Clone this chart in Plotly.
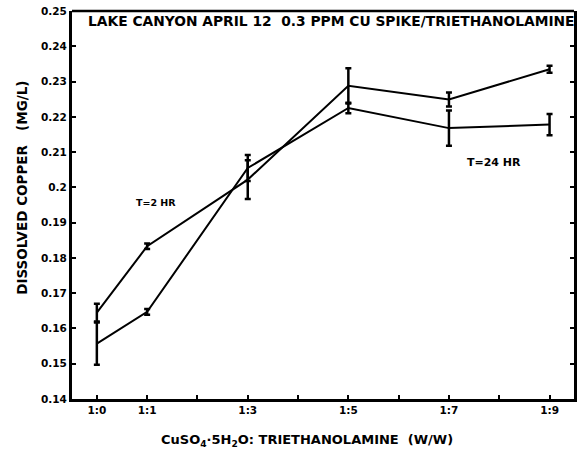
import plotly.graph_objects as go

# Mixing ratio CuSO4·5H2O : triethanolamine (1:n), n values
ratio = [0, 1, 3, 5, 7, 9]

# Dissolved copper (mg/L) after 2 h and 24 h, with error half-widths
cu_2hr = [0.1645, 0.1833, 0.2022, 0.2288, 0.2249, 0.2335]
err_2hr = [0.0025, 0.0008, 0.0055, 0.0050, 0.0020, 0.0010]

cu_24hr = [0.1557, 0.1647, 0.2055, 0.2225, 0.2168, 0.2178]
err_24hr = [0.0060, 0.0008, 0.0037, 0.0015, 0.0050, 0.0030]

x_tick_vals = [0, 1, 3, 5, 7, 9]
x_tick_text = ["1:0", "1:1", "1:3", "1:5", "1:7", "1:9"]

y_tick_vals = [0.14, 0.15, 0.16, 0.17, 0.18, 0.19, 0.20, 0.21, 0.22, 0.23, 0.24, 0.25]
y_tick_text = ["0.14", "0.15", "0.16", "0.17", "0.18", "0.19", "0.2",
               "0.21", "0.22", "0.23", "0.24", "0.25"]

FONT = "DejaVu Sans"

fig = go.Figure()

for vals, errs in ((cu_2hr, err_2hr), (cu_24hr, err_24hr)):
    fig.add_trace(go.Scatter(
        x=ratio, y=vals, mode="lines",
        line=dict(color="black", width=2),
        error_y=dict(type="data", array=errs, visible=True,
                     color="black", thickness=2.5, width=3),
        showlegend=False, hoverinfo="skip",
    ))

fig.update_xaxes(
    range=[-0.494, 9.486], tickmode="array",
    tickvals=x_tick_vals, ticktext=x_tick_text,
    ticks="inside", ticklen=4, tickwidth=2, tickcolor="black",
    minor=dict(tick0=0, dtick=1, ticks="inside", ticklen=4,
               tickwidth=2, tickcolor="black", showgrid=False),
    showline=True, linecolor="black", linewidth=2.5, mirror=False,
    showgrid=False, zeroline=False,
    tickfont=dict(family=FONT, size=10.5, color="black", weight="bold"),
)
fig.update_yaxes(
    range=[0.14, 0.25], tickmode="array",
    tickvals=y_tick_vals, ticktext=y_tick_text,
    ticks="inside", ticklen=4, tickwidth=2, tickcolor="black",
    showline=True, linecolor="black", linewidth=3, mirror="ticks",
    showgrid=False, zeroline=False,
    tickfont=dict(family=FONT, size=10.5, color="black", weight="bold"),
)

# top border line
fig.add_shape(type="line", xref="paper", yref="paper",
              x0=0, x1=1, y0=1, y1=1, line=dict(color="black", width=2.5))

annotations = [
    dict(text="LAKE CANYON APRIL 12  0.3 PPM CU SPIKE/TRIETHANOLAMINE",
         xref="paper", yref="paper", x=0.027, y=0.999,
         xanchor="left", yanchor="top", showarrow=False,
         font=dict(family=FONT, size=13.8, color="black", weight="bold")),
    dict(text="T=2 HR", x=1.17, y=0.1957, xref="x", yref="y",
         showarrow=False,
         font=dict(family=FONT, size=9.5, color="black", weight="bold")),
    dict(text="T=24 HR", x=7.9, y=0.2070, xref="x", yref="y",
         showarrow=False,
         font=dict(family=FONT, size=11, color="black", weight="bold")),
    dict(text="DISSOLVED COPPER   (MG/L)", xref="paper", yref="paper",
         x=-0.1, y=0.544, xanchor="center", yanchor="middle",
         textangle=-90, showarrow=False,
         font=dict(family=FONT, size=13.5, color="black", weight="bold")),
    dict(text="CuSO<sub>4</sub>·5H<sub>2</sub>O: TRIETHANOLAMINE  (W/W)",
         xref="paper", yref="paper", x=0.468, y=-0.08,
         xanchor="center", yanchor="top", showarrow=False,
         font=dict(family=FONT, size=13, color="black", weight="bold")),
]

fig.update_layout(
    width=579, height=449,
    margin=dict(l=72, r=2, t=11, b=50),
    paper_bgcolor="white", plot_bgcolor="white",
    annotations=annotations,
)

fig.write_html("out.html")
